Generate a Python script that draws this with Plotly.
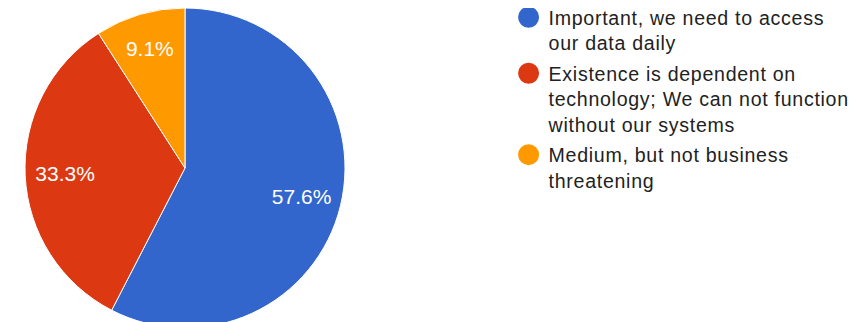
import plotly.graph_objects as go

labels = [
    "Important, we need to access<br>our data daily",
    "Existence is dependent on<br>technology; We can not function<br>without our systems",
    "Medium, but not business<br>threatening",
]
counts = [19, 11, 3]
colors = ["#3366CC", "#DC3912", "#FF9900"]

FONT = "Liberation Sans, Arial, sans-serif"
pie_domain = dict(x=[0.01986, 0.39369], y=[0.0062, 1.0])


def spaced(label):
    return "<br>".join(
        f'<span style="letter-spacing:0.7px">{part}</span>' for part in label.split("<br>")
    )


fig = go.Figure()
# Slices
fig.add_trace(go.Pie(
    labels=labels,
    values=counts,
    sort=False,
    direction="clockwise",
    rotation=0,
    marker=dict(colors=colors, line=dict(color="white", width=1)),
    textinfo="none",
    domain=pie_domain,
    showlegend=False,
    hoverinfo="label+percent",
))
# Percentage labels (same data, transparent ring so labels sit further out)
fig.add_trace(go.Pie(
    labels=labels,
    values=counts,
    sort=False,
    direction="clockwise",
    rotation=0,
    hole=0.5,
    marker=dict(colors=["rgba(0,0,0,0)"] * len(counts), line=dict(width=0)),
    texttemplate="%{percent:.1%}",
    textposition="inside",
    insidetextorientation="horizontal",
    textfont=dict(family=FONT, size=21, color="white"),
    domain=pie_domain,
    showlegend=False,
    hoverinfo="skip",
))

for lab, col in zip(labels, colors):
    fig.add_trace(go.Scatter(
        x=[None], y=[None], mode="markers", name=spaced(lab), legendgroup=lab,
        marker=dict(symbol="circle", size=20, color=col, line=dict(color=col, width=5)),
        showlegend=True,
    ))

fig.update_layout(
    width=856, height=322,
    margin=dict(l=0, r=0, t=0, b=0, autoexpand=False),
    paper_bgcolor="white", plot_bgcolor="white",
    xaxis=dict(visible=False), yaxis=dict(visible=False),
    legend=dict(
        x=0.5848, xanchor="left", y=1.031, yanchor="top",
        font=dict(family=FONT, size=19.6, color="#222222"),
        valign="top", itemsizing="trace", traceorder="grouped",
        tracegroupgap=2, bgcolor="rgba(0,0,0,0)", maxheight=400,
    ),
)

fig.write_html("out.html")
